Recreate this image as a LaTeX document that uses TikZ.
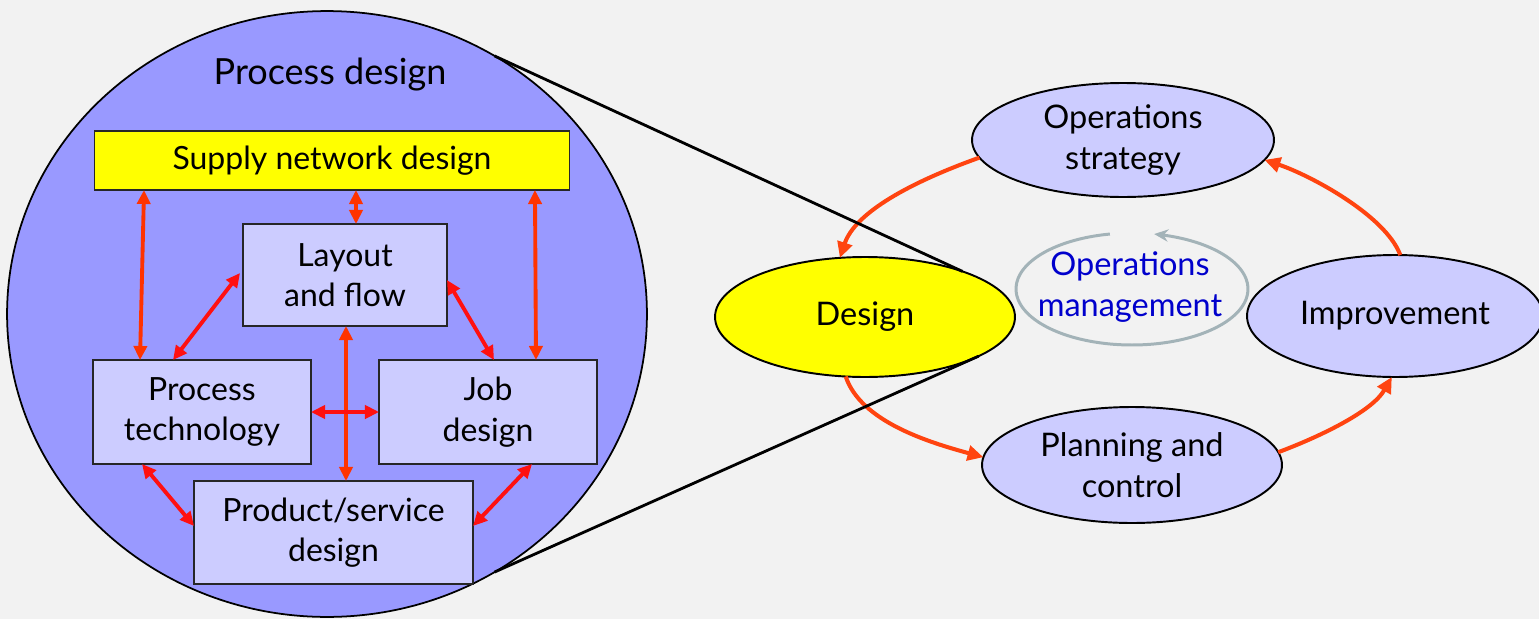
\documentclass[tikz,border=0pt]{standalone}
\usepackage{fontspec}
\setmainfont{Lato}
\usetikzlibrary{shapes.geometric,arrows.meta}
\definecolor{bgc}{HTML}{F2F2F2}
\definecolor{pdfill}{HTML}{9999FF}
\definecolor{boxfill}{HTML}{CCCCFF}
\definecolor{yel}{HTML}{FFFF00}
\definecolor{redv}{HTML}{FF3300}
\definecolor{redd}{HTML}{FF1010}
\definecolor{cycred}{HTML}{FF4410}
\definecolor{opblue}{HTML}{0000CC}
\definecolor{loopgrey}{HTML}{A3B3B8}
\begin{document}
\begin{tikzpicture}[x=0.02cm,y=-0.02cm,
  every node/.style={inner sep=0pt, outer sep=0pt},
  txt/.style={font=\fontsize{18.2}{23}\selectfont, align=center},
  ctxt/.style={font=\fontsize{18.5}{23}\selectfont, align=center},
  box/.style={txt, draw=black!85, line width=0.9pt, fill=boxfill, rectangle},
  cyc/.style={ctxt, ellipse, draw=black, line width=1.1pt, fill=boxfill},
  pdshape/.style={ellipse, draw=black, line width=1pt, fill=pdfill},
  inarrow/.style={line width=2.2pt, {Triangle[length=8pt,width=7.5pt]}-{Triangle[length=8pt,width=7.5pt]}},
  cycarrow/.style={draw=cycred, line width=2.3pt, -{Triangle[length=9pt,width=8.5pt]}},
  zoomline/.style={draw=black, line width=1.6pt}
]
\fill[bgc] (0,0) rectangle (1539,619);
\useasboundingbox (0,0) rectangle (1539,619);

% left: process design circle
\node[pdshape, minimum width=12.8cm, minimum height=12.12cm] (pd) at (327,314) {};
\node[font=\fontsize{20.5}{24}\selectfont] (pdlabel) at (330,75) {Process design};
\node[box, fill=yel, minimum width=9.5cm, minimum height=1.18cm] (sup) at (332,160.5) {Supply network design};
\node[box, minimum width=4.08cm, minimum height=2.04cm] (lay) at (345,275) {Layout\\and flow};
\node[box, minimum width=4.36cm, minimum height=2.08cm] (pt) at (202,412) {Process\\technology};
\node[box, minimum width=4.36cm, minimum height=2.08cm] (job) at (488,412) {Job\\design};
\node[box, minimum width=5.58cm, minimum height=2.06cm] (prod) at (333.5,532.5) {Product/service\\design};

\draw[inarrow, redv] ([xshift=-3.76cm]sup.south) -- ([xshift=-1.24cm]pt.north);
\draw[inarrow, redv] ([xshift=0.48cm]sup.south) -- ([xshift=0.22cm]lay.north);
\draw[inarrow, redv] ([xshift=4.06cm]sup.south) -- ([xshift=0.96cm]job.north);
\draw[inarrow, redv] ([xshift=0.02cm]lay.south) -- ([xshift=0.25cm]prod.north);
\draw[inarrow, redd] ([xshift=-0.06cm,yshift=0.04cm]lay.west) -- ([xshift=-0.58cm]pt.north);
\draw[inarrow, redd] ([yshift=-0.1cm]lay.east) -- ([xshift=0.12cm]job.north);
\draw[inarrow, redd] (pt.east) -- (job.west);
\draw[inarrow, redd] ([xshift=-1.2cm]pt.south) -- ([yshift=0.13cm]prod.west);
\draw[inarrow, redd] ([xshift=0.88cm]job.south) -- ([yshift=0.13cm]prod.east);

% right: cycle
\node[cyc, fill=yel, minimum width=6cm, minimum height=2.4cm] (des) at (865,317) {Design};
\node[cyc, minimum width=6.04cm, minimum height=2.28cm] (ops) at (1123,140) {Operations\\strategy};
\node[cyc, minimum width=5.92cm, minimum height=2.44cm] (imp) at (1395,316) {Improvement};
\node[cyc, minimum width=6cm, minimum height=2.32cm] (pc) at (1132,465) {Planning and\\control};
\node[ctxt, text=opblue] (om) at (1130,287) {Operations\\management};

\draw[draw=loopgrey, line width=1.7pt, -{Stealth[length=8pt,width=7pt]}]
  plot[domain=101:439, samples=80, smooth] ({1132+116*cos(\x)},{289-56*sin(\x)});

\draw[cycarrow] (ops.187) .. controls +(-70,25) and +(15,-45) .. (des.113);
\draw[cycarrow] (des.-108) .. controls +(15,45) and +(-55,-15) .. (pc.177);
\draw[cycarrow] (pc.5) .. controls +(40,-15) and +(-20,35) .. (imp.-93);
\draw[cycarrow] (imp.85) .. controls +(-15,-40) and +(45,15) .. (ops.-8);

% zoom lines
\draw[zoomline] (pd.57) -- (des.25);
\draw[zoomline] (pd.-57) -- (des.-19);
\end{tikzpicture}
\end{document}
